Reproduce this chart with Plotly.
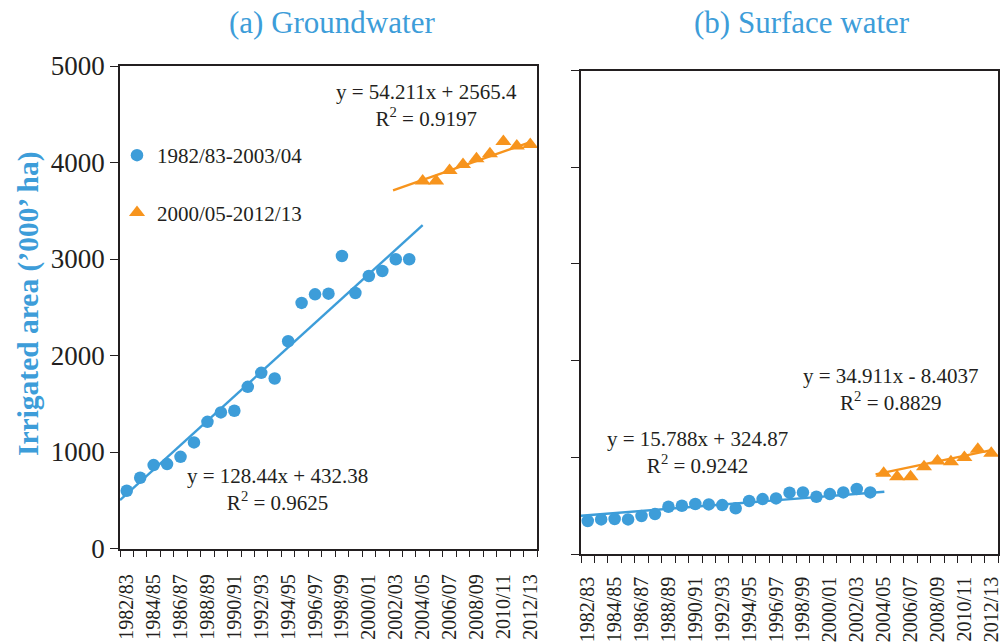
import plotly.graph_objects as go

seasons = ["1982/83","1983/84","1984/85","1985/86","1986/87","1987/88","1988/89","1989/90",
           "1990/91","1991/92","1992/93","1993/94","1994/95","1995/96","1996/97","1997/98",
           "1998/99","1999/00","2000/01","2001/02","2002/03","2003/04","2004/05","2005/06",
           "2006/07","2007/08","2008/09","2009/10","2010/11","2011/12","2012/13"]

# (a) Groundwater
gw_early = [598, 733, 864, 875, 950, 1099, 1313, 1410, 1427, 1675, 1820, 1762, 2148, 2545,
            2634, 2641, 3031, 2648, 2824, 2876, 2997, 2997]
gw_late = [3808, 3808, 3918, 3980, 4039, 4091, 4218, 4170, 4187]
# (b) Surface water
sw_early = [341, 358, 362, 358, 393, 413, 489, 499, 517, 513, 506, 472, 548, 568, 575, 634,
            637, 592, 620, 637, 672, 637]
sw_late = [834, 799, 799, 902, 961, 954, 999, 1082, 1041]

# trend line extents (x index, value)
gw_early_trend_x = [-0.5, 22.0]
gw_early_trend_y = [502, 3350]
gw_late_trend_x = [19.8, 30.0]
gw_late_trend_y = [3711, 4211]
sw_early_trend_x = [-0.5, 22.05]
sw_early_trend_y = [396, 644]
sw_late_trend_x = [21.4, 30.0]
sw_late_trend_y = [824, 1075]

eq_text = {
    "gw_late": "y = 54.211x + 2565.4<br>R<sup>2</sup> = 0.9197",
    "gw_early": "y = 128.44x + 432.38<br>R<sup>2</sup> = 0.9625",
    "sw_late": "y = 34.911x - 8.4037<br>R<sup>2</sup> = 0.8829",
    "sw_early": "y = 15.788x + 324.87<br>R<sup>2</sup> = 0.9242",
}
legend_names = ["1982/83-2003/04", "2000/05-2012/13"]
y_ticks = [0, 1000, 2000, 3000, 4000, 5000]

BLUE = "#3d9dd9"
ORANGE = "#f7941d"
INK = "#231f20"
FONT = "Liberation Serif"

n_early = len(gw_early)
x_early = list(range(n_early))
x_late = list(range(n_early, n_early + len(gw_late)))

fig = go.Figure()

def add_panel(xa, ya, early, late, etx, ety, ltx, lty, show_legend):
    fig.add_trace(go.Scatter(x=etx, y=ety, mode="lines", line=dict(color=BLUE, width=2.4),
                             xaxis=xa, yaxis=ya, showlegend=False, hoverinfo="skip"))
    fig.add_trace(go.Scatter(x=ltx, y=lty, mode="lines", line=dict(color=ORANGE, width=2.4),
                             xaxis=xa, yaxis=ya, showlegend=False, hoverinfo="skip"))
    fig.add_trace(go.Scatter(x=x_early, y=early, mode="markers", name=legend_names[0],
                             marker=dict(color=BLUE, size=12.5, symbol="circle"),
                             xaxis=xa, yaxis=ya, showlegend=show_legend, legendgroup="a"))
    fig.add_trace(go.Scatter(x=x_late, y=late, mode="markers", name=legend_names[1],
                             marker=dict(color=ORANGE, size=14, symbol="triangle-up"),
                             xaxis=xa, yaxis=ya, showlegend=show_legend, legendgroup="b"))

add_panel("x", "y", gw_early, gw_late, gw_early_trend_x, gw_early_trend_y,
          gw_late_trend_x, gw_late_trend_y, True)
add_panel("x2", "y2", sw_early, sw_late, sw_early_trend_x, sw_early_trend_y,
          sw_late_trend_x, sw_late_trend_y, False)

W, H = 1003, 643

def xaxis_cfg(x0, x1, anchor, standoff):
    return dict(
        domain=[x0 / W, x1 / W], range=[-0.5, len(seasons) - 0.5], anchor=anchor,
        tickmode="array", tickvals=list(range(0, len(seasons), 2)), ticktext=seasons[::2],
        tickangle=-90, ticks="", ticklabelstandoff=standoff, automargin=False,
        tickfont=dict(family=FONT, size=20, color=INK),
        minor=dict(tickmode="linear", tick0=-0.5, dtick=1, ticks="outside", ticklen=7,
                   tickcolor=INK, tickwidth=1.3),
        showline=True, linecolor=INK, linewidth=1.5, mirror=True,
        showgrid=False, zeroline=False, fixedrange=True,
    )

def yaxis_cfg(y_bottom_px, y_top_px, labels, anchor):
    return dict(
        domain=[1 - y_bottom_px / H, 1 - y_top_px / H], range=[0, 5000], anchor=anchor,
        tickmode="array", tickvals=y_ticks, showticklabels=labels, automargin=False,
        ticks="outside", ticklen=8, tickcolor=INK, tickwidth=1.3,
        tickfont=dict(family=FONT, size=27, color=INK),
        showline=True, linecolor=INK, linewidth=1.5, mirror=True,
        showgrid=False, zeroline=False, fixedrange=True,
    )

fig.update_layout(
    width=W, height=H, autosize=False,
    margin=dict(l=0, r=0, t=0, b=0, pad=0),
    paper_bgcolor="white", plot_bgcolor="white",
    xaxis=xaxis_cfg(120, 537, "y", 16), yaxis=yaxis_cfg(548.5, 66, True, "x"),
    xaxis2=xaxis_cfg(581, 998, "y2", 13), yaxis2=yaxis_cfg(554, 70.5, False, "x2"),
    showlegend=True,
    legend=dict(x=117 / W, y=1 - 135 / H, xanchor="left", yanchor="top",
                bgcolor="rgba(0,0,0,0)", font=dict(family=FONT, size=21, color=INK),
                tracegroupgap=27, itemwidth=30),
)

ann = []
ann.append(dict(text="(a) Groundwater", x=332 / W, y=1 - 22 / H, xref="paper", yref="paper",
                xanchor="center", yanchor="middle",
                showarrow=False, font=dict(family=FONT, size=31, color=BLUE)))
ann.append(dict(text="(b) Surface water", x=802 / W, y=1 - 22 / H, xref="paper", yref="paper",
                xanchor="center", yanchor="middle",
                showarrow=False, font=dict(family=FONT, size=31, color=BLUE)))
ann.append(dict(text="<b>Irrigated area (\u2019000\u2019 ha)</b>", x=29 / W, y=1 - 304 / H,
                xref="paper", yref="paper", textangle=-90, showarrow=False,
                xanchor="center", yanchor="middle",
                font=dict(family=FONT, size=29.5, color=BLUE)))
eq_font = dict(family=FONT, size=21, color=INK)
ann.append(dict(text=eq_text["gw_late"], x=22.3, y=4591, xref="x", yref="y", showarrow=False, font=eq_font))
ann.append(dict(text=eq_text["gw_early"], x=11.24, y=616, xref="x", yref="y", showarrow=False, font=eq_font))
ann.append(dict(text=eq_text["sw_late"], x=22.55, y=1706, xref="x2", yref="y2", showarrow=False, font=eq_font))
ann.append(dict(text=eq_text["sw_early"], x=8.13, y=1050, xref="x2", yref="y2", showarrow=False, font=eq_font))
fig.update_layout(annotations=ann)

fig.write_html("out.html", config={"displayModeBar": False})
